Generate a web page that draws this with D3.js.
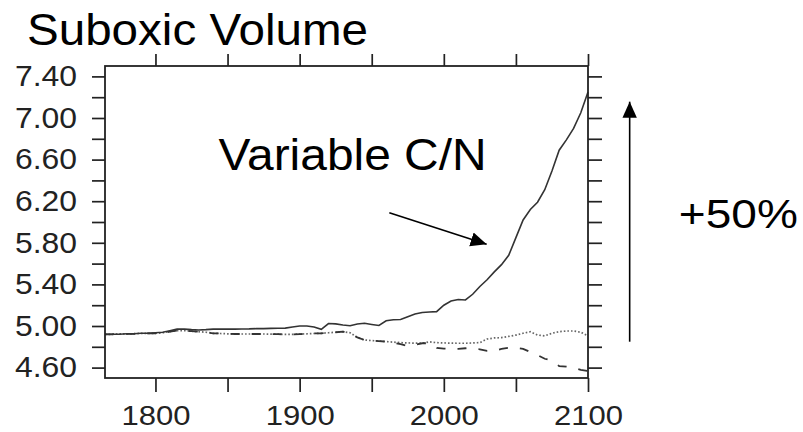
<!DOCTYPE html>
<html>
<head>
<meta charset="utf-8">
<script src="https://cdn.jsdelivr.net/npm/d3@7"></script>
<style>
  body { margin: 0; background: #fff; }
  svg { display: block; font-family: "Liberation Sans", Arial, sans-serif; }
</style>
</head>
<body>
<svg width="803" height="432"></svg>
<script>
// years of the model run
const years = [
  1765, 1770, 1775, 1780, 1785, 1790, 1795, 1800, 1805, 1810,
  1815, 1820, 1825, 1830, 1835, 1840, 1845, 1850, 1855, 1860,
  1865, 1870, 1875, 1880, 1885, 1890, 1895, 1900, 1905, 1910,
  1915, 1920, 1925, 1930, 1935, 1940, 1945, 1950, 1955, 1960,
  1965, 1970, 1975, 1980, 1985, 1990, 1995, 2000, 2005, 2010,
  2015, 2020, 2025, 2030, 2035, 2040, 2045, 2050, 2055, 2060,
  2065, 2070, 2075, 2080, 2085, 2090, 2095, 2100
];

// variable C/N (solid)
const variableCN = [
  4.92, 4.92, 4.92, 4.925, 4.925, 4.93, 4.93, 4.935, 4.94, 4.955,
  4.97, 4.97, 4.965, 4.962, 4.965, 4.97, 4.97, 4.97, 4.97, 4.971,
  4.972, 4.975, 4.975, 4.977, 4.978, 4.98, 4.99, 5.00, 5.00, 4.99,
  4.968, 5.024, 5.02, 5.01, 5.003, 5.02, 5.026, 5.015, 5.005, 5.05,
  5.06, 5.063, 5.09, 5.115, 5.13, 5.135, 5.138, 5.20, 5.24, 5.255,
  5.25, 5.305, 5.38, 5.445, 5.52, 5.59, 5.68, 5.85, 6.02, 6.12,
  6.19, 6.31, 6.49, 6.69, 6.79, 6.90, 7.05, 7.25
];

// dotted run
const dottedRun = [
  4.92, 4.92, 4.925, 4.925, 4.925, 4.93, 4.93, 4.93, 4.935, 4.945,
  4.955, 4.955, 4.95, 4.945, 4.94, 4.93, 4.928, 4.925, 4.923, 4.923,
  4.923, 4.923, 4.923, 4.922, 4.921, 4.92, 4.92, 4.922, 4.925, 4.928,
  4.93, 4.935, 4.94, 4.945, 4.935, 4.89, 4.865, 4.86, 4.855, 4.85,
  4.845, 4.84, 4.837, 4.835, 4.835, 4.848, 4.84, 4.837, 4.835, 4.834,
  4.834, 4.837, 4.84, 4.875, 4.885, 4.888, 4.90, 4.913, 4.93, 4.945,
  4.913, 4.905, 4.93, 4.945, 4.952, 4.952, 4.94, 4.905
];

// dashed run
const dashedRun = [
  4.92, 4.92, 4.925, 4.925, 4.925, 4.93, 4.93, 4.93, 4.935, 4.945,
  4.955, 4.955, 4.95, 4.945, 4.94, 4.93, 4.928, 4.925, 4.923, 4.923,
  4.923, 4.923, 4.923, 4.922, 4.921, 4.92, 4.92, 4.922, 4.925, 4.928,
  4.93, 4.935, 4.94, 4.945, 4.935, 4.89, 4.865, 4.86, 4.855, 4.85,
  4.84, 4.825, 4.808, 4.82, 4.834, 4.834, 4.79, 4.782, 4.78, 4.78,
  4.786, 4.78, 4.776, 4.76, 4.76, 4.78, 4.79, 4.79, 4.78, 4.75,
  4.72, 4.685, 4.667, 4.615, 4.61, 4.60, 4.578, 4.567
];

const yTicks = [4.6, 4.8, 5.0, 5.2, 5.4, 5.6, 5.8, 6.0, 6.2, 6.4, 6.6, 6.8, 7.0, 7.2, 7.4];
const yLabels = [4.6, 5.0, 5.4, 5.8, 6.2, 6.6, 7.0, 7.4];
const xTicks = [1800, 1850, 1900, 1950, 2000, 2050, 2100];
const xLabels = [1800, 1900, 2000, 2100];

const svg = d3.select('svg');
svg.append('rect').attr('width', 803).attr('height', 432).attr('fill', '#fff');

const box = {l: 105, r: 588, t: 66, b: 378};

const scaleX = d3.scaleLinear().domain([1765, 2100]).range([box.l, box.r]);
const scaleY = d3.scaleLinear().domain([4.5, 7.5]).range([box.b, box.t]);

const axisColor = '#222';

function styleAxis(g) {
    g.select('.domain').remove();
    g.selectAll('.tick line').attr('stroke', axisColor).attr('stroke-width', 1.7);
    g.selectAll('.tick text')
        .attr('fill', '#222')
        .style('font-size', '29px');
}

// left axis
const axisLeftG = svg.append('g')
    .attr('transform', `translate(${box.l},0)`)
    .call(d3.axisLeft(scaleY)
        .tickValues(yTicks)
        .tickSize(13)
        .tickPadding(15)
        .tickFormat(d => yLabels.some(v => Math.abs(v - d) < 1e-6) ? d3.format('.2f')(d) : ''));
styleAxis(axisLeftG);
axisLeftG.selectAll('.tick text')
    .attr('textLength', d => yLabels.some(v => Math.abs(v - d) < 1e-6) ? 62 : null)
    .attr('lengthAdjust', 'spacingAndGlyphs');

// right axis
const axisRightG = svg.append('g')
    .attr('transform', `translate(${box.r},0)`)
    .call(d3.axisRight(scaleY).tickValues(yTicks).tickSize(14).tickFormat(''));
styleAxis(axisRightG);

// bottom axis
const axisBottomG = svg.append('g')
    .attr('transform', `translate(0,${box.b})`)
    .call(d3.axisBottom(scaleX)
        .tickValues(xTicks)
        .tickSize(14)
        .tickPadding(13)
        .tickFormat(d => xLabels.includes(d) ? String(d) : ''));
styleAxis(axisBottomG);
axisBottomG.selectAll('.tick text')
    .style('font-size', '28px')
    .attr('textLength', d => xLabels.includes(d) ? 69 : null)
    .attr('lengthAdjust', 'spacingAndGlyphs');

// top axis
const axisTopG = svg.append('g')
    .attr('transform', `translate(0,${box.t})`)
    .call(d3.axisTop(scaleX).tickValues(xTicks).tickSize(12).tickFormat(''));
styleAxis(axisTopG);

// lines
const lineGen = vals => d3.line()
    .x((d, i) => scaleX(years[i]))
    .y(d => scaleY(d))
    .curve(d3.curveLinear)(vals);

svg.append('path')
    .attr('d', lineGen(dottedRun))
    .attr('fill', 'none')
    .attr('stroke', '#666')
    .attr('stroke-width', 1.7)
    .attr('stroke-dasharray', '1.6,2');

svg.append('path')
    .attr('d', lineGen(dashedRun))
    .attr('fill', 'none')
    .attr('stroke', '#333')
    .attr('stroke-width', 1.8)
    .attr('stroke-dasharray', '9,12');

svg.append('path')
    .attr('d', lineGen(variableCN))
    .attr('fill', 'none')
    .attr('stroke', '#333')
    .attr('stroke-width', 1.6);

// frame
svg.append('rect')
    .attr('x', box.l).attr('y', box.t)
    .attr('width', box.r - box.l).attr('height', box.b - box.t)
    .attr('fill', 'none')
    .attr('stroke', axisColor)
    .attr('stroke-width', 1.8);

// title
svg.append('text')
    .attr('x', 27).attr('y', 45)
    .attr('textLength', 341)
    .attr('lengthAdjust', 'spacingAndGlyphs')
    .style('font-size', '44px')
    .attr('fill', '#000')
    .text('Suboxic Volume');

// arrow heads
svg.append('defs').append('marker')
    .attr('id', 'headBig')
    .attr('viewBox', '0 0 10 10')
    .attr('refX', 10).attr('refY', 5)
    .attr('markerWidth', 16).attr('markerHeight', 16)
    .attr('markerUnits', 'userSpaceOnUse')
    .attr('orient', 'auto')
    .append('path')
    .attr('d', 'M0,0.5 L10,5 L0,9.5 Z')
    .attr('fill', '#000');

// annotation: Variable C/N with arrow
svg.append('text')
    .attr('x', scaleX(1843.8)).attr('y', scaleY(6.5))
    .attr('textLength', 268)
    .attr('lengthAdjust', 'spacingAndGlyphs')
    .style('font-size', '44px')
    .attr('fill', '#000')
    .text('Variable C/N');

svg.append('line')
    .attr('x1', scaleX(1962.2)).attr('y1', scaleY(6.089))
    .attr('x2', scaleX(2029.7)).attr('y2', scaleY(5.786))
    .attr('stroke', '#000')
    .attr('stroke-width', 1.6)
    .attr('marker-end', 'url(#headBig)');

// +50% arrow
svg.append('line')
    .attr('x1', scaleX(2128.9)).attr('y1', scaleY(4.849))
    .attr('x2', scaleX(2128.9)).attr('y2', scaleY(7.157))
    .attr('stroke', '#000')
    .attr('stroke-width', 1.6)
    .attr('marker-end', 'url(#headBig)');

svg.append('text')
    .attr('x', scaleX(2163)).attr('y', scaleY(5.94))
    .attr('textLength', 119)
    .attr('lengthAdjust', 'spacingAndGlyphs')
    .style('font-size', '40px')
    .attr('fill', '#000')
    .text('+50%');
</script>
</body>
</html>
